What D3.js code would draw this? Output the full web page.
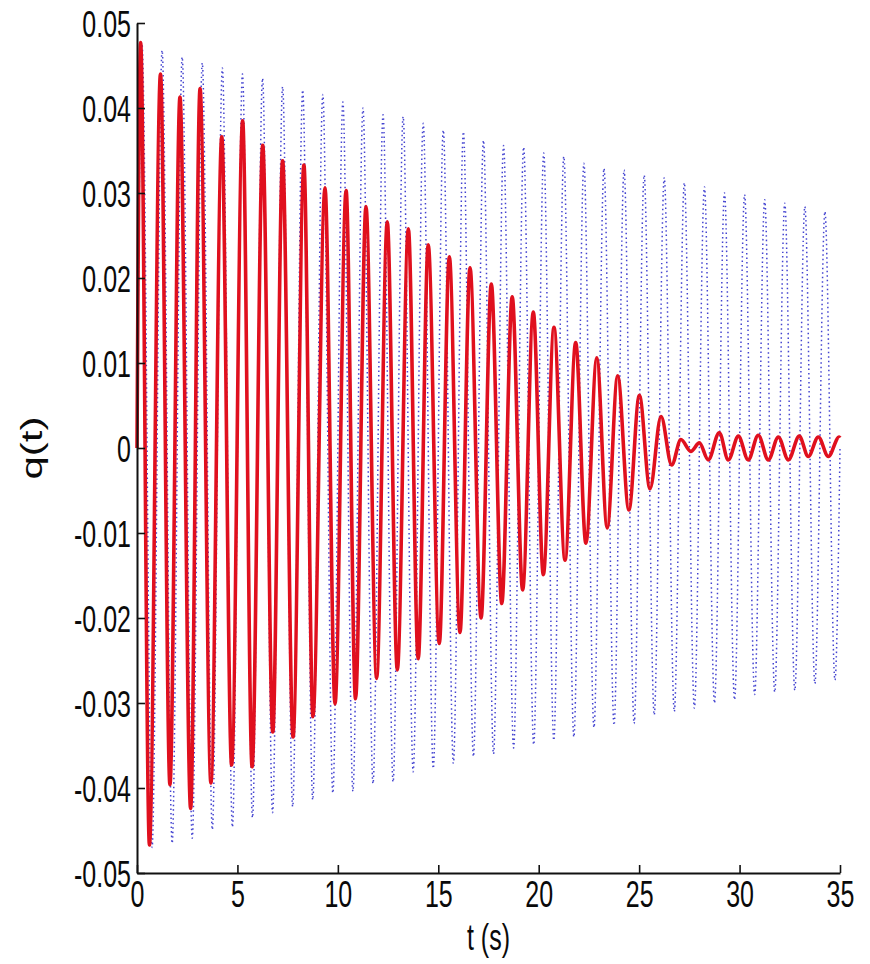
<!DOCTYPE html>
<html><head><meta charset="utf-8">
<script src="https://cdn.jsdelivr.net/npm/d3@7"></script>
<style>body{margin:0;background:#fff}</style>
</head><body>
<svg id="chart" width="870" height="964"></svg>
<script>
// ---- data ----
const xTicks = [0, 5, 10, 15, 20, 25, 30, 35];
const xTickLabels = ["0", "5", "10", "15", "20", "25", "30", "35"];
const yTicks = [-0.05, -0.04, -0.03, -0.02, -0.01, 0, 0.01, 0.02, 0.03, 0.04, 0.05];
const yTickLabels = ["-0.05", "-0.04", "-0.03", "-0.02", "-0.01", "0", "0.01", "0.02", "0.03", "0.04", "0.05"];
const xLabel = "t (s)";
const yLabel = "q(t)";

// blue dotted series: successive extrema (peak, trough, ...)
const blueTimes = [0,
  0.25, 0.75, 1.25, 1.75, 2.25, 2.75, 3.25, 3.75, 4.25, 4.75,
  5.25, 5.75, 6.25, 6.75, 7.25, 7.75, 8.25, 8.75, 9.25, 9.75,
  10.25, 10.75, 11.25, 11.75, 12.25, 12.75, 13.25, 13.75, 14.25, 14.75,
  15.25, 15.75, 16.25, 16.75, 17.25, 17.75, 18.25, 18.75, 19.25, 19.75,
  20.25, 20.75, 21.25, 21.75, 22.25, 22.75, 23.25, 23.75, 24.25, 24.75,
  25.25, 25.75, 26.25, 26.75, 27.25, 27.75, 28.25, 28.75, 29.25, 29.75,
  30.25, 30.75, 31.25, 31.75, 32.25, 32.75, 33.25, 33.75, 34.25, 34.75,
  35];
const blueValues = [0,
  0.0475, -0.0470, 0.0468, -0.0465, 0.0460, -0.0459, 0.0453, -0.0449, 0.0447, -0.0446,
  0.0440, -0.0435, 0.0435, -0.0429, 0.0425, -0.0422, 0.0421, -0.0414, 0.0416, -0.0406,
  0.0407, -0.0404, 0.0400, -0.0395, 0.0392, -0.0393, 0.0390, -0.0381, 0.0382, -0.0377,
  0.0374, -0.0371, 0.0372, -0.0363, 0.0362, -0.0360, 0.0356, -0.0353, 0.0354, -0.0349,
  0.0347, -0.0344, 0.0343, -0.0340, 0.0335, -0.0329, 0.0329, -0.0326, 0.0327, -0.0324,
  0.0321, -0.0314, 0.0318, -0.0310, 0.0312, -0.0306, 0.0307, -0.0300, 0.0300, -0.0296,
  0.0298, -0.0290, 0.0292, -0.0287, 0.0288, -0.0285, 0.0284, -0.0277, 0.0278, -0.0273,
  0];

// red solid series: successive extrema
const redTimes = [0,
  0.18, 0.62, 1.17, 1.64, 2.14, 2.67, 3.14, 3.68, 4.22, 4.71,
  5.26, 5.73, 6.26, 6.76, 7.25, 7.77, 8.31, 8.76, 9.36, 9.86,
  10.41, 10.88, 11.40, 11.93, 12.46, 12.96, 13.51, 14.00, 14.50, 15.05,
  15.55, 16.08, 16.58, 17.13, 17.64, 18.16, 18.68, 19.20, 19.73, 20.23,
  20.76, 21.31, 21.84, 22.35, 22.89, 23.41, 23.93, 24.49, 25.01, 25.54,
  26.09, 26.62, 27.08, 27.57, 28.00, 28.44, 28.99, 29.44, 29.94, 30.43,
  30.93, 31.43, 31.93, 32.43, 32.97, 33.42, 33.92, 34.42, 34.96, 35];
const redValues = [0,
  0.0477, -0.0467, 0.0440, -0.0396, 0.0413, -0.0424, 0.0423, -0.0394, 0.0366, -0.0373,
  0.0385, -0.0375, 0.0356, -0.0334, 0.0338, -0.0340, 0.0333, -0.0316, 0.0306, -0.0301,
  0.0303, -0.0295, 0.0284, -0.0271, 0.0266, -0.0261, 0.0258, -0.0248, 0.0239, -0.0230,
  0.0225, -0.0217, 0.0212, -0.0200, 0.0193, -0.0183, 0.0178, -0.0167, 0.0160, -0.0149,
  0.0142, -0.0132, 0.0124, -0.0112, 0.0106, -0.0094, 0.0085, -0.0073, 0.0062, -0.0048,
  0.0037, -0.0020, 0.0010, -0.0004, 0.0006, -0.0014, 0.0018, -0.0014, 0.0014, -0.0014,
  0.0015, -0.0014, 0.0013, -0.0014, 0.0014, -0.0010, 0.0013, -0.0010, 0.0013, 0.0012];

// ---- drawing ----
const svg = d3.select("#chart");
const margin = {left: 137, right: 30, top: 23, bottom: 91};
const W = 870, H = 964;
const x = d3.scaleLinear().domain([0, 35]).range([margin.left, W - margin.right]);
const y = d3.scaleLinear().domain([-0.05, 0.05]).range([H - margin.bottom, margin.top]);

const FONT = "'Liberation Sans', Arial, sans-serif";
const FS = 25, SY = 1.45;

const line = d3.line().x((d) => x(d[0])).y((d) => y(d[1])).curve(d3.curveMonotoneX);

const blue = blueTimes.map((t, i) => [t, blueValues[i]]);
const red = redTimes.map((t, i) => [t, redValues[i]]);

svg.append("path").datum(blue)
  .attr("d", line).attr("fill", "none")
  .attr("stroke", "#2323c8").attr("stroke-width", 1.5)
  .attr("stroke-dasharray", "1.5 3").attr("opacity", 0.85);

svg.append("path").datum(red)
  .attr("d", line).attr("fill", "none")
  .attr("stroke", "#e0101e").attr("stroke-width", 3.6)
  .attr("stroke-linejoin", "round");

// axes
const xAxis = svg.append("g").attr("transform", `translate(0,${y(-0.05)})`)
  .call(d3.axisBottom(x).tickValues(xTicks).tickFormat((d, i) => xTickLabels[i])
    .tickSizeInner(-8).tickSizeOuter(0));
const yAxis = svg.append("g").attr("transform", `translate(${x(0)},0)`)
  .call(d3.axisLeft(y).tickValues(yTicks).tickFormat((d, i) => yTickLabels[i])
    .tickSizeInner(-8).tickSizeOuter(0));

[xAxis, yAxis].forEach((g) => {
  g.select(".domain").attr("stroke", "#111").attr("stroke-width", 2);
  g.selectAll(".tick line").attr("stroke", "#111").attr("stroke-width", 1.6);
  g.selectAll("text").attr("font-family", FONT).attr("font-size", FS).attr("fill", "#0a0a0a");
});
xAxis.selectAll("text").attr("y", 0).attr("dy", 0)
  .attr("text-anchor", "middle")
  .attr("transform", `translate(0,34) scale(1,${SY})`);
yAxis.selectAll("text").attr("x", 0).attr("dy", 0)
  .attr("text-anchor", "end")
  .attr("transform", `translate(-6,13) scale(1,${SY})`);

svg.append("text").text(xLabel)
  .attr("font-family", FONT).attr("font-size", FS).attr("fill", "#0a0a0a")
  .attr("text-anchor", "middle")
  .attr("transform", `translate(${(x(0) + x(35)) / 2},950) scale(1,${SY})`);

svg.append("text").text(yLabel)
  .attr("font-family", FONT).attr("font-size", 29).attr("fill", "#0a0a0a")
  .attr("text-anchor", "middle")
  .attr("transform", `translate(42,${y(0)}) scale(1,${SY}) rotate(-90)`);
</script>
</body></html>
